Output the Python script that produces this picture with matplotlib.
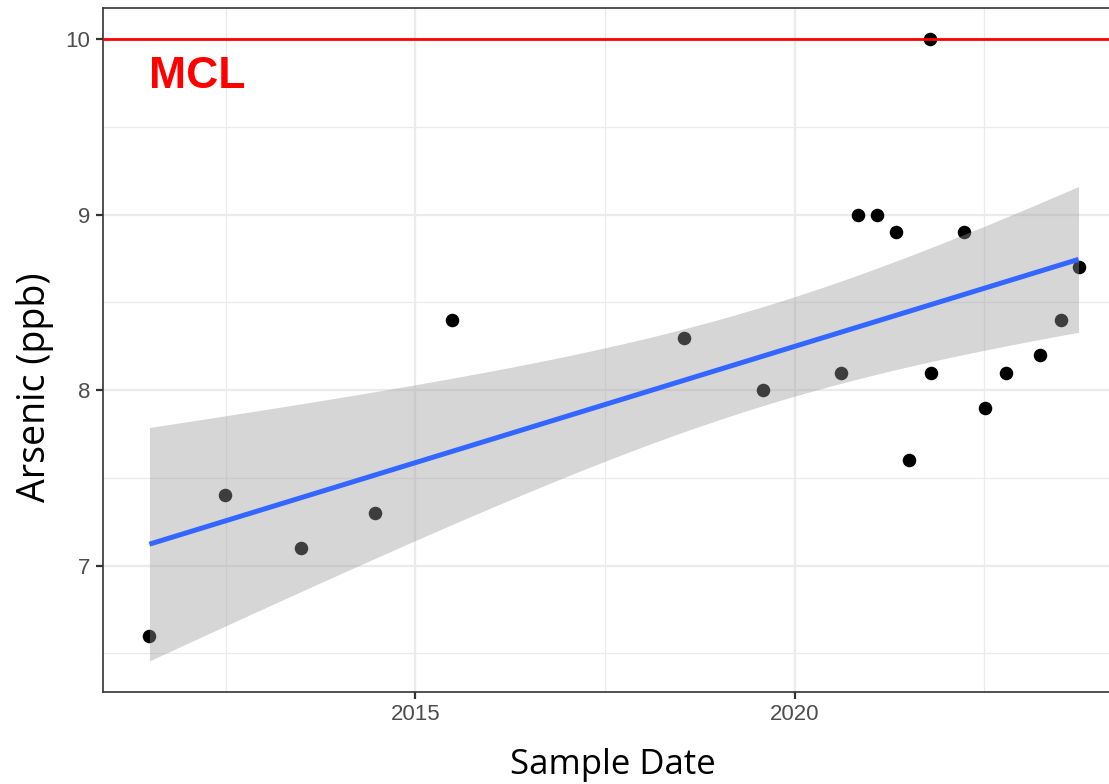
import numpy as np
import pandas as pd
import matplotlib.pyplot as plt
import matplotlib.dates as mdates

# sample dates and arsenic values
sample_dates = ["2011-07-01", "2012-07-01", "2013-06-28", "2014-06-20", "2015-06-28",
                "2018-07-16", "2019-08-03", "2020-08-10", "2020-10-30", "2021-01-30",
                "2021-05-01", "2021-07-05", "2021-10-15", "2021-10-20", "2022-03-28",
                "2022-07-05", "2022-10-12", "2023-03-28", "2023-07-05", "2023-09-28"]
arsenic = [6.6, 7.4, 7.1, 7.3, 8.4,
           8.3, 8.0, 8.1, 9.0, 9.0,
           8.9, 7.6, 10.0, 8.1, 8.9,
           7.9, 8.1, 8.2, 8.4, 8.7]
mcl = 10.0
y_ticks = [7, 8, 9, 10]
x_tick_years = [2015, 2020]

dates = pd.to_datetime(sample_dates)
xnum = mdates.date2num(dates)
y = np.array(arsenic)

# linear fit with 95% confidence band (like geom_smooth(method="lm"))
n = len(xnum)
b1, b0 = np.polyfit(xnum, y, 1)
resid = y - (b0 + b1 * xnum)
s = np.sqrt(np.sum(resid ** 2) / (n - 2))
xg = np.linspace(xnum.min(), xnum.max(), 200)
fit = b0 + b1 * xg
se = s * np.sqrt(1 / n + (xg - xnum.mean()) ** 2 / np.sum((xnum - xnum.mean()) ** 2))
t975 = 2.101
lo, hi = fit - t975 * se, fit + t975 * se

W, H = 1109, 784
fig = plt.figure(figsize=(W / 100, H / 100), dpi=100)
left, right, top, bottom = 103, 1125, 8, 692
ax = fig.add_axes([left / W, 1 - bottom / H, (right - left) / W, (bottom - top) / H])

ax.scatter(dates, y, s=95, color="black", zorder=2, linewidths=0)
ax.fill_between(mdates.num2date(xg), lo, hi, color="#999999", alpha=0.4, linewidth=0, zorder=3)
ax.plot(mdates.num2date(xg), fit, color="#3366FF", lw=3.6, zorder=4, solid_capstyle="butt")
ax.axhline(mcl, color="red", lw=2, zorder=5)
ax.text(dates[0], 9.785, "MCL", color="red", fontsize=32, fontweight="bold",
        family="Liberation Sans", ha="left", va="center", zorder=6)

# limits with ggplot-style expansion
xr = xnum.max() - xnum.min()
ax.set_xlim(xnum.min() - 0.05 * xr, xnum.max() + 0.05 * xr)
ymin, ymax = min(lo.min(), y.min()), max(mcl, y.max())
yr = ymax - ymin
ax.set_ylim(ymin - 0.05 * yr, ymax + 0.05 * yr)

ax.set_yticks(y_ticks)
ax.set_yticks([6.5, 7.5, 8.5, 9.5], minor=True)
ax.set_xticks([mdates.date2num(pd.Timestamp(f"{yr_}-01-01")) for yr_ in x_tick_years])
ax.set_xticklabels([str(v) for v in x_tick_years])
ax.set_xticks([mdates.date2num(pd.Timestamp(d)) for d in ["2012-07-02", "2017-07-02", "2022-07-02"]], minor=True)

ax.grid(True, which="major", color="#EBEBEB", lw=1.6, zorder=0)
ax.grid(True, which="minor", color="#EBEBEB", lw=0.9, zorder=0)
ax.set_axisbelow(True)
ax.tick_params(which="major", length=5, width=1.6, color="#333333", labelsize=16,
               labelcolor="#4D4D4D", pad=4)
ax.tick_params(which="minor", length=0)
for lab in ax.get_xticklabels() + ax.get_yticklabels():
    lab.set_family("Liberation Sans")
for sp in ax.spines.values():
    sp.set_color("#333333")
    sp.set_linewidth(1.2)

ax.set_xlabel("Sample Date", fontsize=25, family="Open Sans")
ax.set_ylabel("Arsenic (ppb)", fontsize=27, family="Open Sans")
ax.xaxis.set_label_coords((613 - left) / (right - left), -(765 - bottom) / (bottom - top), transform=ax.transAxes)
ax.yaxis.set_label_coords(-(103 - 35) / (right - left), (bottom - 387) / (bottom - top), transform=ax.transAxes)
ax.xaxis.label.set_va("center")
ax.yaxis.label.set_va("center")

fig.savefig("out.png", dpi=100)
